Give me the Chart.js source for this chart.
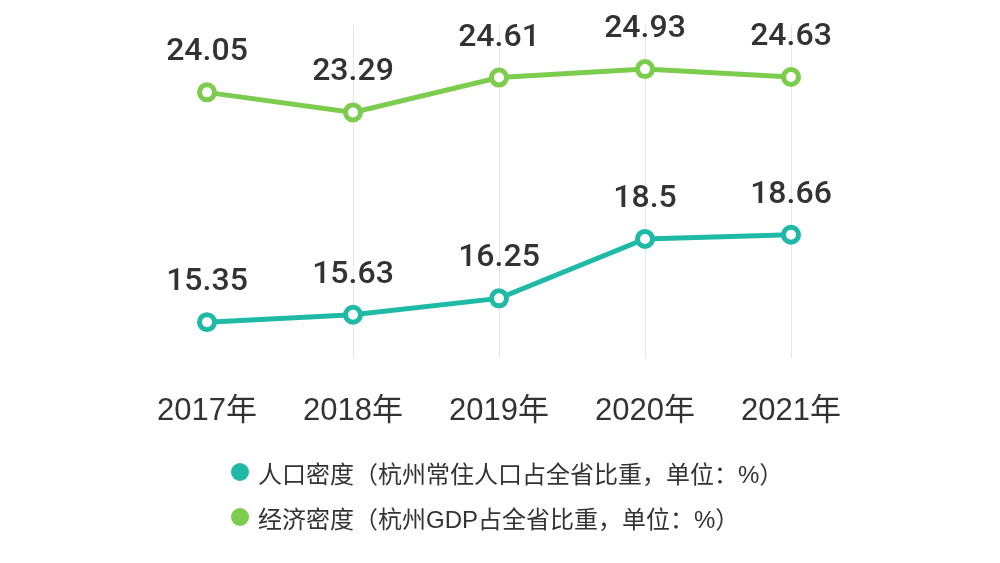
<!DOCTYPE html>
<html>
<head>
<meta charset="utf-8">
<script src="https://cdn.jsdelivr.net/npm/chart.js@4/dist/chart.umd.min.js"></script>
<style>
  html, body { margin: 0; padding: 0; background: #ffffff; }
  #wrap { position: relative; width: 1000px; height: 563px; }
  #legend { position: absolute; left: 231px; top: 457px; font-family: "Liberation Sans", "Noto Sans CJK SC", sans-serif; font-size: 24px; color: #333333; }
  .item { display: flex; align-items: center; height: 30px; margin-bottom: 15px; white-space: nowrap; }
  .dot { width: 18px; height: 18px; border-radius: 50%; margin-right: 9px; flex: none; }
</style>
</head>
<body>
<div id="wrap">
  <canvas id="c" width="1000" height="563"></canvas>
  <div id="legend"></div>
</div>
<script>
const categories = ['2017年', '2018年', '2019年', '2020年', '2021年'];
const populationShare = [15.35, 15.63, 16.25, 18.5, 18.66];
const gdpShare = [24.05, 23.29, 24.61, 24.93, 24.63];
const seriesNames = ['人口密度（杭州常住人口占全省比重，单位：%）', '经济密度（杭州GDP占全省比重，单位：%）'];
const seriesColors = ['#1fbaa6', '#7ccc4e'];

const valueLabels = {
  id: 'valueLabels',
  afterDatasetsDraw(chart) {
    const ctx = chart.ctx;
    ctx.save();
    ctx.font = '500 32px Roboto, "Liberation Sans", sans-serif';
    ctx.fillStyle = '#333333';
    ctx.textAlign = 'center';
    ctx.textBaseline = 'middle';
    chart.data.datasets.forEach((ds, i) => {
      chart.getDatasetMeta(i).data.forEach((pt, j) => {
        ctx.fillText(String(ds.data[j]), pt.x, pt.y - 40);
      });
    });
    ctx.restore();
  }
};

new Chart(document.getElementById('c'), {
  type: 'line',
  data: {
    labels: categories,
    datasets: [
      { label: seriesNames[0], data: populationShare, borderColor: seriesColors[0], backgroundColor: '#ffffff',
        borderWidth: 5, pointRadius: 7.5, pointBorderWidth: 5, pointBackgroundColor: '#ffffff', pointBorderColor: seriesColors[0], tension: 0 },
      { label: seriesNames[1], data: gdpShare, borderColor: seriesColors[1], backgroundColor: '#ffffff',
        borderWidth: 5, pointRadius: 7.5, pointBorderWidth: 5, pointBackgroundColor: '#ffffff', pointBorderColor: seriesColors[1], tension: 0 }
    ]
  },
  options: {
    responsive: false,
    animation: false,
    layout: { padding: { left: 134, right: 136, top: 25, bottom: 98 } },
    plugins: { legend: { display: false }, tooltip: { enabled: false } },
    scales: {
      x: {
        offset: true,
        grid: { offset: false, drawTicks: false, color: (c) => c.index === 0 ? 'rgba(0,0,0,0)' : '#e6e6e6', lineWidth: 1 },
        border: { display: false },
        ticks: { padding: 35, color: '#333333', font: { size: 31, family: '"Liberation Sans", "Noto Sans CJK SC", sans-serif' } }
      },
      y: { display: false, min: 14, max: 26.6 }
    }
  },
  plugins: [valueLabels]
});

const legend = document.getElementById('legend');
seriesNames.forEach((name, i) => {
  const item = document.createElement('div');
  item.className = 'item';
  const dot = document.createElement('span');
  dot.className = 'dot';
  dot.style.background = seriesColors[i];
  const txt = document.createElement('span');
  txt.textContent = name;
  item.appendChild(dot);
  item.appendChild(txt);
  legend.appendChild(item);
});
</script>
</body>
</html>
